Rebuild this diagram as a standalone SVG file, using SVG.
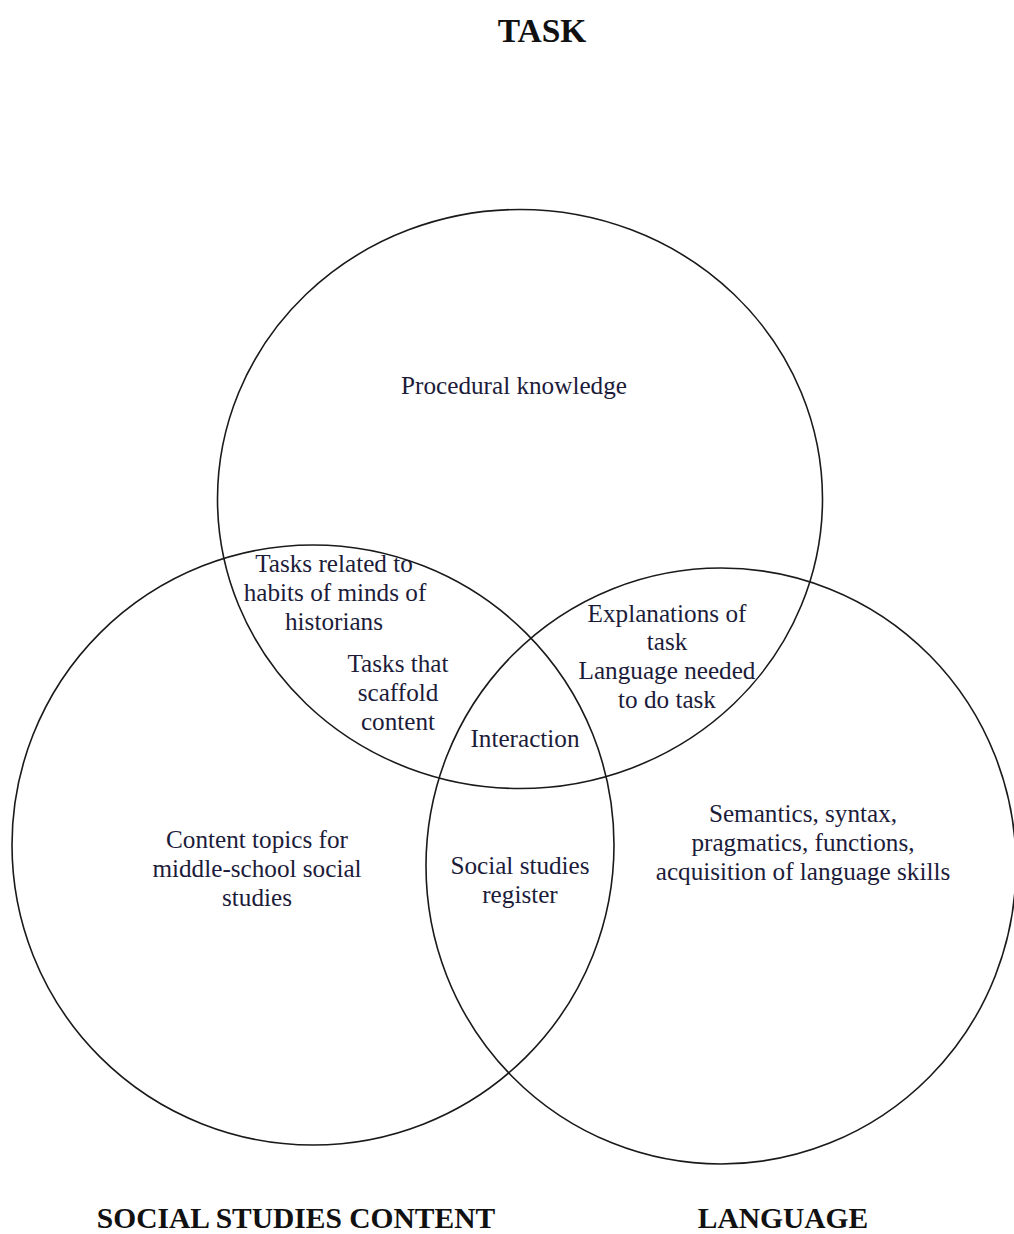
<svg xmlns="http://www.w3.org/2000/svg" width="1014" height="1234" viewBox="0 0 1014 1234">
  <style>
    .ring { fill: none; stroke: #1a1a1a; stroke-width: 1.6; }
    .lbl { font-family: "Liberation Serif", "Times New Roman", serif; font-size: 25.2px; fill: #1c1c3a; text-anchor: middle; }
    .head { font-family: "Liberation Serif", "Times New Roman", serif; font-weight: bold; fill: #111; text-anchor: middle; }
  </style>
  <rect width="1014" height="1234" fill="#fff"/>

  <!-- the three sets -->
  <g id="connectors"></g>
  <g id="set-task">
    <ellipse class="ring" cx="520" cy="499" rx="302.5" ry="289.5"/>
    <text class="head" x="542" y="42" font-size="33.5">TASK</text>
    <text class="lbl" x="514" y="394">Procedural knowledge</text>
  </g>
  <g id="set-content">
    <ellipse class="ring" cx="313" cy="845" rx="301" ry="300"/>
    <text class="head" x="296" y="1228" font-size="29.5">SOCIAL STUDIES CONTENT</text>
    <text class="lbl" x="257" y="848">Content topics for</text>
    <text class="lbl" x="257" y="877">middle-school social</text>
    <text class="lbl" x="257" y="906">studies</text>
  </g>
  <g id="set-language">
    <ellipse class="ring" cx="721" cy="866" rx="295" ry="298"/>
    <text class="head" x="783" y="1228" font-size="29.5">LANGUAGE</text>
    <text class="lbl" x="803" y="822">Semantics, syntax,</text>
    <text class="lbl" x="803" y="851">pragmatics, functions,</text>
    <text class="lbl" x="803" y="880">acquisition of language skills</text>
  </g>

  <!-- overlaps -->
  <g id="task-content">
    <text class="lbl" x="334" y="572">Tasks related to</text>
    <text class="lbl" x="335" y="601">habits of minds of</text>
    <text class="lbl" x="334" y="630">historians</text>
    <text class="lbl" x="398" y="672">Tasks that</text>
    <text class="lbl" x="398" y="701">scaffold</text>
    <text class="lbl" x="398" y="730">content</text>
  </g>
  <g id="task-language">
    <text class="lbl" x="667" y="622">Explanations of</text>
    <text class="lbl" x="667" y="650">task</text>
    <text class="lbl" x="667" y="679">Language needed</text>
    <text class="lbl" x="667" y="708">to do task</text>
  </g>
  <g id="all-three">
    <text class="lbl" x="525" y="747">Interaction</text>
  </g>
  <g id="content-language">
    <text class="lbl" x="520" y="874">Social studies</text>
    <text class="lbl" x="520" y="903">register</text>
  </g>
</svg>
